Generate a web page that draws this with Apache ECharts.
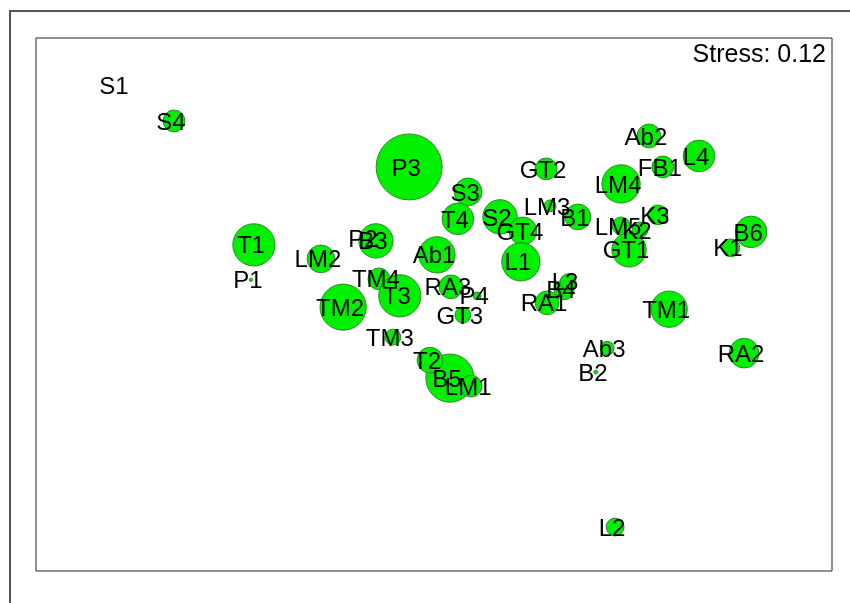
<!DOCTYPE html>
<html>
<head>
<meta charset="utf-8">
<script src="https://cdn.jsdelivr.net/npm/echarts@6/dist/echarts.min.js"></script>
<style>
  html, body { margin: 0; padding: 0; background: #fff; }
  #chart { width: 850px; height: 603px; }
</style>
</head>
<body>
<div id="chart"></div>
<script>
// NMDS site scores, listed in drawing order (later sites sit on top)
const sites = ['B1','B2','B3','B4','B5','B6',
  'S1','S2','S3','S4',
  'P1','P2','P3','P4',
  'TM1','TM2','TM3','TM4',
  'T1','T2','T3','T4',
  'LM1','LM2','LM3','LM4','LM5',
  'GT1','GT2','GT3','GT4',
  'L1','L2','L3','L4',
  'Ab1','Ab2','Ab3',
  'RA1','RA2','RA3',
  'K1','K2','K3',
  'FB1'];
const nmds1 = [0.434, 0.488, -0.175, 0.392, 0.048, 0.956,
  -0.956, 0.199, 0.103, -0.784,
  -0.552, -0.205, -0.075, 0.130,
  0.709, -0.274, -0.124, -0.166,
  -0.543, -0.012, -0.103, 0.072,
  0.112, -0.341, 0.350, 0.564, 0.564,
  0.588, 0.338, 0.087, 0.268,
  0.262, 0.546, 0.404, 0.799,
  0.009, 0.648, 0.522,
  0.341, 0.935, 0.051,
  0.895, 0.621, 0.675,
  0.690];
const nmds2 = [0.263, -0.203, 0.191, 0.044, -0.221, 0.218,
  0.659, 0.263, 0.338, 0.551,
  0.074, 0.197, 0.413, 0.026,
  -0.014, -0.008, -0.098, 0.077,
  0.179, -0.167, 0.026, 0.257,
  -0.245, 0.137, 0.296, 0.362, 0.236,
  0.164, 0.407, -0.032, 0.221,
  0.128, -0.668, 0.068, 0.446,
  0.149, 0.506, -0.131,
  0.005, -0.146, 0.053,
  0.170, 0.224, 0.269,
  0.413];
// bubble weight per site
const abundance = [3.9, 0.6, 5.2, 3.0, 7.3, 4.8,
  0, 5.2, 4.2, 3.3,
  0.5, 0, 10, 1.2,
  5.5, 7.0, 2.4, 3.3,
  6.4, 3.9, 6.4, 4.8,
  3.3, 4.2, 1.8, 5.8, 2.7,
  5.2, 3.3, 2.4, 4.2,
  5.8, 2.7, 2.4, 4.8,
  5.5, 3.6, 2.1,
  3.6, 4.5, 3.6,
  2.7, 2.4, 3.0,
  3.3];
const stressValue = 0.12;

const points = sites.map((s, i) => ({ name: s, value: [nmds1[i], nmds2[i], abundance[i]] }));
const FONT = '"Liberation Sans", Arial, sans-serif';

const chart = echarts.init(document.getElementById('chart'), null, { renderer: 'canvas' });
chart.setOption({
  animation: false,
  backgroundColor: '#ffffff',
  grid: { left: 36, right: 18, top: 38, bottom: 32, show: true, borderColor: '#222', borderWidth: 1, backgroundColor: 'transparent' },
  xAxis: { type: 'value', min: -1.2, max: 1.2, show: false },
  yAxis: { type: 'value', min: -0.8, max: 0.8, show: false },
  graphic: [
    { type: 'rect', silent: true, shape: { x: 10, y: 11, width: 900, height: 700 },
      style: { fill: 'none', stroke: '#555', lineWidth: 2 } },
    { type: 'text', right: 24, top: 43, silent: true, z: 10,
      style: { text: 'Stress: ' + stressValue.toFixed(2), fill: '#000', font: '25px ' + FONT } }
  ],
  series: [
    {
      type: 'scatter',
      data: points,
      symbol: 'circle',
      symbolSize: v => v[2] * 6.6,
      itemStyle: { color: '#00f000', borderColor: '#2b8a2b', borderWidth: 1, opacity: 1 },
      emphasis: { disabled: true },
      z: 2
    },
    {
      type: 'scatter',
      data: points,
      symbol: 'circle',
      symbolSize: 1,
      itemStyle: { color: 'rgba(0,0,0,0)' },
      label: {
        show: true, position: 'inside', offset: [-3, 2],
        formatter: p => p.name,
        color: '#000', opacity: 1, textBorderWidth: 0, fontSize: 24, fontFamily: FONT
      },
      emphasis: { disabled: true },
      z: 5
    }
  ]
});
</script>
</body>
</html>
